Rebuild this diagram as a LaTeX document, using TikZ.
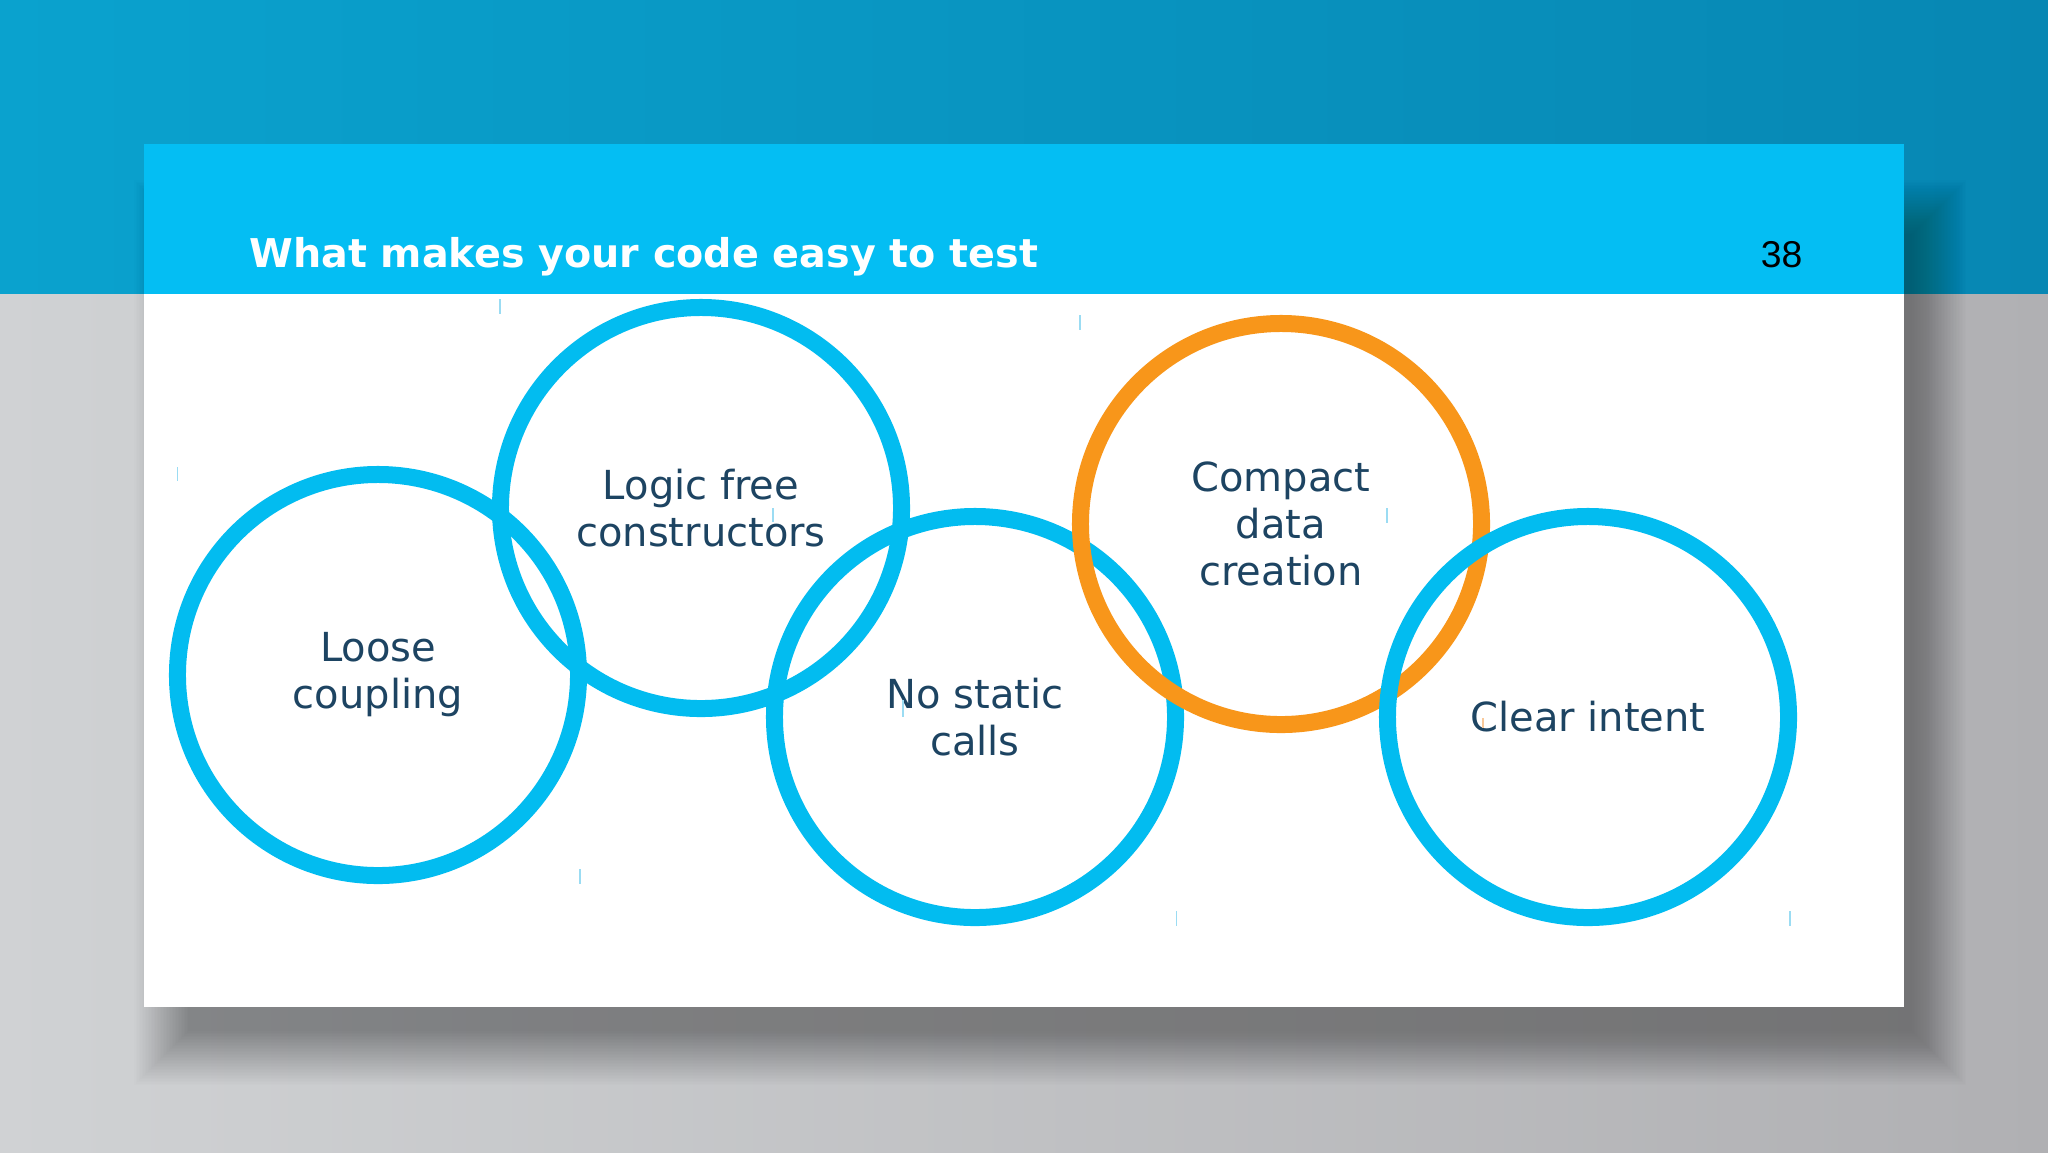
\documentclass[tikz,border=0pt]{standalone}
\usepackage{fontspec}
\setmainfont{DejaVu Sans}
\newfontfamily\numfont{Liberation Sans}
\definecolor{bgblueL}{HTML}{0AA2CE}
\definecolor{bgblueR}{HTML}{0787B3}
\definecolor{bggrayL}{HTML}{D0D2D4}
\definecolor{bggrayR}{HTML}{B0B0B3}
\definecolor{hdr}{HTML}{04BEF3}
\definecolor{ringblue}{HTML}{02BCF0}
\definecolor{ringorange}{HTML}{F8961A}
\definecolor{txt}{HTML}{1D4462}
\definecolor{tickblue}{HTML}{9BDCF3}
\definecolor{tickorange}{HTML}{F9C99A}
\begin{document}
\begin{tikzpicture}[x=0.375pt,y=-0.375pt,
  ring/.style={circle, draw=ringblue, line width=6.375pt, minimum size=150.4pt,
    inner sep=0pt, align=center, text=txt, font=\fontsize{15}{17.6}\selectfont},
  tickline/.style={draw=tickblue, line width=0.55pt}]
\useasboundingbox (0,0) rectangle (2048,1152);
% background
\shade[left color=bgblueL, right color=bgblueR] (0,0) rectangle (2048,294);
\shade[left color=bggrayL, right color=bggrayR] (0,294) rectangle (2048,1152);
% soft shadow of the slide
\foreach \i in {0,...,36} {
  \fill[black, opacity=0.0075] (134+1.5*\i,180+1.5*\i) rectangle (1966-1.5*\i,1085-1.5*\i);
}
% slide card
\fill[white] (144,144) rectangle (1904,1007);
\fill[hdr] (144,144) rectangle (1904,294);
% header texts
\node[anchor=base west, text=white, inner sep=0pt,
  font=\bfseries\fontsize{14.86}{18}\selectfont] (title) at (249,267) {What makes your code easy to test};
\node[anchor=base east, text=black, inner sep=0pt,
  font=\numfont\fontsize{14}{16}\selectfont] (num) at (1803,267) {38};
% rings
\node[ring] (loose) at (378,675) {Loose\\coupling};
\node[ring] (logic) at (701,508) {Logic free\\constructors};
\node[ring] (nostatic) at (975,717) {No static\\calls};
\node[ring, draw=ringorange] (compact) at (1281,524) {Compact\\data\\creation};
\node[ring] (clear) at (1588,717) {Clear intent};
% small tick marks
\draw[tickline] (500,299) -- (500,314);
\draw[tickline] (177.5,467) -- (177.5,481);
\draw[tickline] (580,869) -- (580,884);
\draw[tickline] (773,508) -- (773,522);
\draw[tickline] (903,700) -- (903,717);
\draw[tickline] (1080,315) -- (1080,330);
\draw[tickline] (1387,508) -- (1387,523);
\draw[tickline] (1176.5,911) -- (1176.5,926);
\draw[tickline] (1790,911) -- (1790,926);
\draw[draw=tickorange, line width=0.55pt] (1483,718) -- (1483,728);
\end{tikzpicture}
\end{document}
